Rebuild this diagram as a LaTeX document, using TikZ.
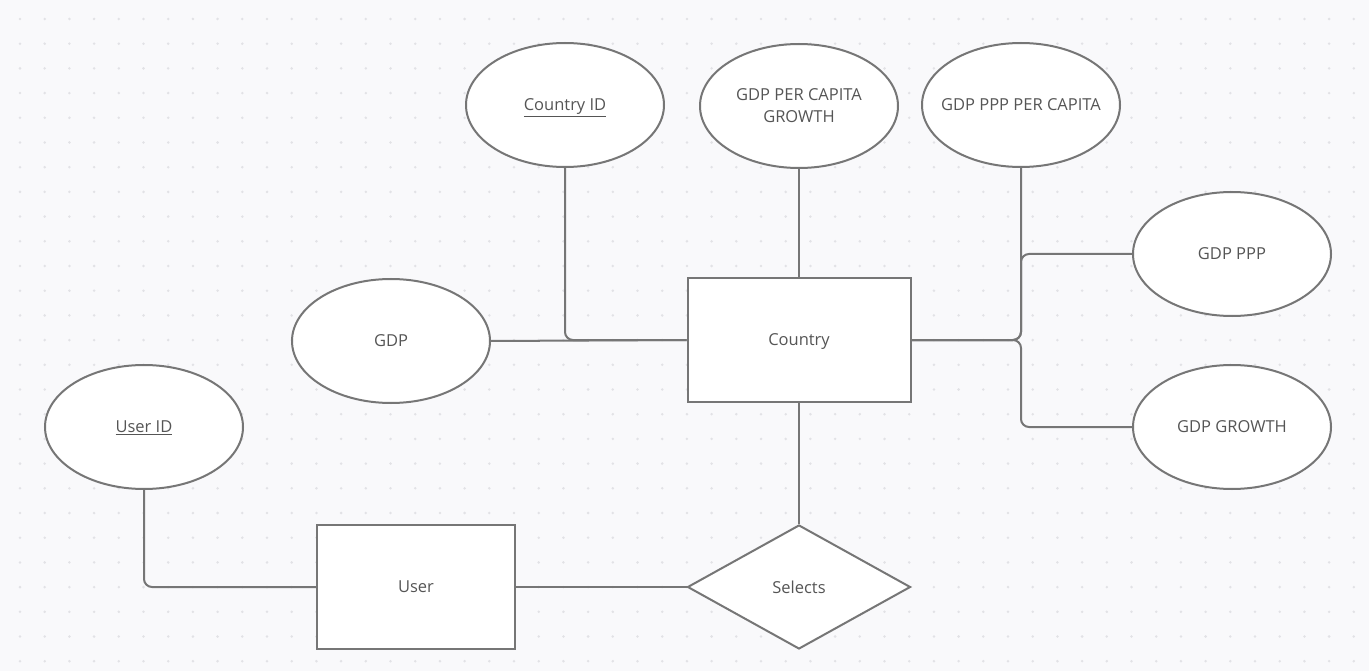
\documentclass[tikz,border=0pt]{standalone}
\usepackage{fontspec}
\setmainfont{Open Sans}
\usepackage{tikz}
\usetikzlibrary{shapes.geometric}

\definecolor{bgcol}{HTML}{F9F9FB}
\definecolor{dotcol}{HTML}{E2E2E6}
\definecolor{linecol}{HTML}{767676}
\definecolor{txtcol}{HTML}{555555}

\begin{document}
\begin{tikzpicture}[x=1pt, y=-1pt,
    font=\fontsize{16.5}{22}\selectfont, text=txtcol,
    entity/.style={draw=linecol, line width=2pt, fill=white, rectangle,
      minimum width=223pt, minimum height=124pt, inner sep=0pt, text depth=0pt},
    attrib/.style={draw=linecol, line width=2pt, fill=white, ellipse,
      minimum width=198pt, minimum height=124pt, inner sep=0pt, align=center},
    relation/.style={draw=linecol, line width=2pt, fill=white, diamond,
      aspect=1.8, minimum width=223pt, minimum height=124pt, inner sep=0pt, text depth=0pt},
    conn/.style={draw=linecol, line width=2pt, rounded corners=8pt}]

      % background with dots
      \useasboundingbox (0,0) rectangle (1369,671);
      \fill [bgcol] (0,0) rectangle (1369,671);
      \foreach \i in {0,...,54}
        \foreach \j in {0,...,26}
          \fill [dotcol] (20+24.7*\i, 19+24.7*\j) circle (1.4);

      % entities
      \node[entity](country) at (799, 340){Country};
      \node[entity, minimum width=198pt](user) at (416, 587){User};

      % relationship
      \node[relation](selects) at (799, 587){Selects};

      % attributes of Country
      \node[attrib, text depth=0pt](cid) at (565, 105){\underline{Country ID}};
      \node[attrib](pcg) at (799, 106){GDP PER CAPITA\\GROWTH};
      \node[attrib, text depth=0pt](ppc) at (1021, 105){\makebox[0pt]{GDP PPP PER CAPITA}};
      \node[attrib, text depth=0pt](ppp) at (1232, 254){GDP PPP};
      \node[attrib, text depth=0pt](growth) at (1232, 427){GDP GROWTH};
      \node[attrib, text depth=0pt](gdp) at (391, 341){GDP};

      % attribute of User
      \node[attrib, text depth=0pt](uid) at (144, 427){\underline{User ID}};

      % connectors
      \draw [conn] (cid.south) |- (country.west);
      \draw [conn] (gdp.east) -- (country.west);
      \draw [conn] (pcg.south) -- (country.north);
      \draw [conn] (country.east) -| (ppc.south);
      \draw [conn] (country.east) -| (ppc.south |- ppp.west) -- (ppp.west);
      \draw [conn] (country.east) -| (ppc.south |- growth.west) -- (growth.west);
      \draw [conn] (country.south) -- (selects.north);
      \draw [conn] (uid.south) |- (user.west);
      \draw [conn] (user.east) -- (selects.west);
\end{tikzpicture}
\end{document}
